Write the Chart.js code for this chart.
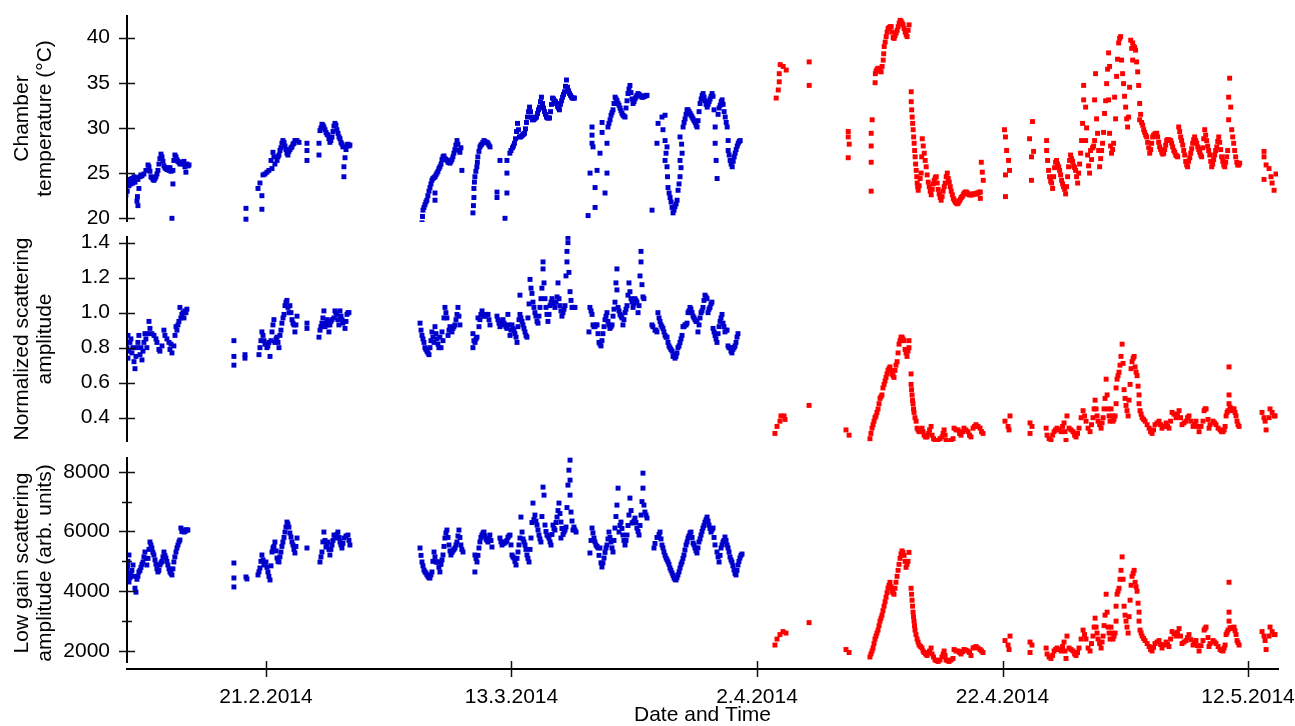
<!DOCTYPE html>
<html>
<head>
<meta charset="utf-8">
<script src="https://cdn.jsdelivr.net/npm/chart.js@4.4.1/dist/chart.umd.min.js"></script>
<style>
  html, body { margin: 0; padding: 0; background: #fff; }
  #wrap { position: relative; width: 1295px; height: 726px; }
  #wrap canvas { position: absolute; left: 0; top: 0; }
</style>
</head>
<body>
<div id="wrap">
  <canvas id="tempChart" width="1295" height="726"></canvas>
  <canvas id="normChart" width="1295" height="726"></canvas>
  <canvas id="lowChart" width="1295" height="726"></canvas>
</div>
<script>
// x values are days counted from 1.2.2014 (day 0)
var dateTicks = [20, 40, 60, 80, 100];
var dayMin = 8.68;
var dayMax = 102.44;

var tempTicks = [20, 25, 30, 35, 40];
var normTicks = [0.4, 0.6, 0.8, 1.0, 1.2, 1.4];
var lowTicks = [2000, 3000, 4000, 5000, 6000, 7000, 8000];

// chamber temperature, [day, degC]
var tempBlue = [
  [8.59,22.6],[8.59,23.3],[8.65,24.0],[8.70,23.0],[8.76,24.2],[8.84,23.6],[8.92,24.3],[9.00,23.8],[9.08,24.4],[9.16,23.9],
  [9.25,24.6],[9.33,24.0],[9.41,24.5],[9.49,21.9],[9.53,22.4],[9.57,21.4],[9.57,24.3],[9.65,23.3],[9.74,24.6],[9.82,24.8],
  [9.90,24.7],[10.06,24.9],[10.22,25.3],[10.39,25.9],[10.47,25.7],[10.55,25.2],[10.63,24.6],[10.71,24.5],[10.80,24.3],[10.88,24.2],
  [10.96,24.4],[11.04,24.6],[11.12,24.9],[11.20,25.3],[11.28,26.0],[11.36,26.6],[11.45,27.1],[11.53,26.8],[11.61,26.3],[11.69,25.8],
  [11.77,25.6],[11.85,25.5],[11.93,25.4],[12.02,25.6],[12.10,25.3],[12.18,25.6],[12.26,25.2],[12.34,20.0],[12.42,23.8],[12.42,25.3],
  [12.50,26.4],[12.58,27.0],[12.67,26.8],[12.75,26.5],[12.83,26.3],[12.91,26.2],[12.99,26.0],[13.07,26.1],[13.15,26.2],[13.24,26.0],
  [13.32,26.3],[13.40,25.7],[13.48,25.9],[13.48,25.1],[13.57,26.0],[13.65,25.8],[13.73,25.9],
  [18.37,21.1],[18.37,19.9],[19.35,23.3],[19.51,23.9],[19.67,22.5],[19.67,21.0],[19.76,24.8],[19.92,24.9],[20.08,25.1],[20.24,25.3],
  [20.49,25.5],[20.57,27.3],[20.73,26.0],[20.90,26.4],[21.06,27.0],[21.22,27.8],[21.38,28.6],[21.55,28.0],[21.71,27.2],[21.87,27.4],
  [21.95,27.6],[22.12,27.9],[22.28,28.3],[22.36,28.6],[22.53,28.6],[22.69,28.4],
  [20.41,26.4],[20.65,26.8],[20.98,26.8],[21.14,27.5],[21.30,28.3],[21.47,28.4],[21.63,27.6],[21.79,27.0],[22.04,27.8],[22.20,28.2],
  [23.34,28.3],[23.34,27.5],[23.34,26.4],[24.32,28.3],[24.32,27.0],[24.40,29.7],[24.64,30.3],[24.81,29.8],[25.05,29.2],[25.21,28.4],
  [25.38,29.0],[25.62,30.5],[25.87,29.4],[26.03,28.8],[26.27,27.9],[26.35,25.7],[26.35,24.6],[26.44,26.7],[26.60,28.1],[26.84,28.1],
  [24.48,30.0],[24.56,30.4],[24.72,30.1],[24.89,29.5],[24.97,29.3],[25.13,28.8],[25.29,28.6],[25.46,29.6],[25.54,30.2],[25.70,30.3],
  [25.78,29.8],[25.95,29.0],[26.11,28.4],[26.19,28.2],[26.52,27.6],[26.68,28.2],[26.76,28.0],
  [32.71,19.5],[32.79,20.9],[32.95,21.5],[33.11,22.0],[33.36,23.4],[33.52,24.2],[33.77,24.6],[33.77,22.8],[33.77,22.0],[33.93,25.0],
  [34.17,25.7],[34.42,26.8],[34.58,26.6],[34.74,26.4],[34.99,26.1],[35.23,26.8],[35.39,27.6],[35.56,28.6],[35.72,27.5],[35.88,27.8],
  [35.96,25.3],
  [32.75,20.2],[32.87,21.2],[33.03,21.8],[33.19,22.5],[33.28,23.0],[33.44,23.8],[33.60,24.4],[33.69,24.5],[33.85,24.8],[34.01,25.2],
  [34.09,25.5],[34.26,26.0],[34.34,26.5],[34.50,26.9],[34.66,26.5],[34.83,26.2],[34.91,26.2],[35.07,26.3],[35.15,26.5],[35.31,27.2],
  [35.47,28.1],[35.64,28.2],[35.80,27.3],
  [36.86,20.6],[36.94,22.3],[36.94,23.3],[37.02,24.6],[37.18,25.7],[37.26,26.8],[37.43,27.9],[37.67,28.4],[37.84,28.5],[38.08,28.3],
  [38.25,27.9],
  [36.90,21.4],[36.98,24.0],[37.10,25.2],[37.22,26.2],[37.35,27.4],[37.51,28.1],[37.59,28.2],[37.76,28.6],[37.92,28.4],[38.00,28.4],
  [38.16,28.1],
  [38.82,22.9],[38.82,22.3],[39.06,26.4],[39.47,20.0],[39.63,22.8],[39.63,25.0],[39.63,26.4],[39.87,27.2],[40.08,27.8],[40.24,28.3],
  [40.49,30.5],[40.65,29.0],[40.90,29.2],[41.06,29.4],[41.30,31.2],[41.47,32.3],[41.71,30.9],[41.87,31.0],[42.04,31.2],[42.28,32.3],
  [42.44,33.4],[42.53,32.7],[42.69,31.8],[42.85,31.2],[43.10,31.1],[43.34,33.3],[43.50,33.0],[43.67,32.7],[43.91,32.0],[44.16,33.4],
  [44.32,34.0],[44.48,35.3],[44.56,34.5],[44.73,33.8],[44.89,33.4],[45.13,33.3],
  [39.96,27.5],[40.16,28.0],[40.33,28.8],[40.41,29.6],[40.57,29.8],[40.73,29.0],[40.82,29.1],[40.98,29.3],[41.14,29.9],[41.22,30.6],
  [41.39,31.8],[41.55,31.8],[41.63,31.2],[41.79,30.9],[41.95,31.1],[42.12,31.6],[42.20,32.0],[42.36,32.9],[42.61,32.2],[42.77,31.5],
  [42.93,31.1],[43.02,31.1],[43.18,31.8],[43.26,32.6],[43.42,33.2],[43.59,32.9],[43.75,32.4],[43.83,32.2],[43.99,32.6],[44.08,33.0],
  [44.24,33.7],[44.40,34.6],[44.65,34.1],[44.81,33.6],[44.97,33.3],[45.05,33.3],
  [46.24,20.3],[46.40,25.0],[46.56,30.1],[46.56,29.2],[46.56,28.3],[46.64,27.9],[46.81,21.2],[46.81,23.4],[46.97,25.3],[47.21,27.2],
  [47.38,30.6],[47.38,29.5],[47.62,22.8],[47.78,25.0],[47.78,28.3],[47.86,30.1],[48.03,30.9],[48.27,32.0],[48.44,33.4],[48.68,32.7],
  [48.84,32.2],[49.00,31.6],[49.25,31.2],[49.49,33.8],[49.65,34.7],[49.90,32.7],[50.06,33.2],[50.31,33.8],[50.47,33.6],[50.71,33.4],
  [51.04,33.6],
  [47.94,30.5],[48.11,31.4],[48.19,31.7],[48.35,32.7],[48.52,33.2],[48.60,33.0],[48.76,32.5],[48.92,31.9],[49.08,31.4],[49.17,31.3],
  [49.33,32.2],[49.41,33.0],[49.57,34.3],[49.74,33.9],[49.82,33.2],[49.98,32.9],[50.14,33.4],[50.22,33.6],[50.39,33.7],[50.55,33.5],
  [50.63,33.4],[50.79,33.5],[50.87,33.5],[50.96,33.6],
  [51.45,20.9],[51.85,28.3],[51.94,30.5],[52.26,31.2],[52.34,29.8],[52.51,31.4],[52.51,28.6],[52.51,26.4],[52.67,27.9],[52.67,25.7],
  [52.75,23.4],[52.92,22.3],[53.08,21.2],[53.16,20.6],[53.32,21.3],[53.49,22.0],[53.57,23.1],[53.73,24.6],[53.73,26.4],[53.73,29.0],
  [53.90,27.2],[53.98,30.1],[54.14,31.0],[54.30,32.0],[54.55,31.6],[54.71,31.2],[54.96,30.6],[55.12,30.1],[55.36,32.7],[55.61,33.8],
  [55.77,33.0],[55.94,32.3],[56.18,33.2],[56.34,33.8],[56.59,30.1],[56.59,28.3],[56.67,26.4],[56.75,24.4],[57.00,32.5],[57.16,33.1],
  [57.41,31.2],[57.57,30.1],[57.65,28.6],[57.65,27.5],[57.81,26.4],[57.98,25.7],[58.22,27.2],[58.47,28.3],[58.63,28.6],
  [52.59,27.2],[52.71,24.6],[52.84,22.8],[53.00,21.8],[53.24,20.9],[53.41,21.6],[53.65,23.8],[53.81,25.6],[53.86,28.2],
  [54.06,30.6],[54.22,31.5],[54.38,32.0],[54.47,31.8],[54.63,31.4],[54.79,31.0],[54.87,30.8],[55.04,30.3],[55.20,30.8],[55.28,31.8],
  [55.45,33.2],[55.53,33.6],[55.69,33.4],[55.85,32.6],[56.02,32.6],[56.10,32.9],[56.26,33.5],[56.42,33.5],[56.50,32.0],[56.83,31.5],
  [56.91,32.2],[57.08,32.9],[57.24,32.6],[57.32,31.8],[57.49,30.6],[57.73,27.0],[57.89,26.0],[58.06,26.3],[58.14,26.8],[58.30,27.6],
  [58.39,28.0],[58.55,28.5]
];

var tempRed = [
  [61.56,33.3],[61.73,34.2],[61.81,35.1],[61.81,36.0],[61.89,37.0],[62.13,36.8],[62.38,36.4],
  [64.25,37.3],[64.25,34.7],
  [67.43,29.6],[67.43,29.0],[67.43,26.7],[67.51,28.2],
  [69.30,23.0],[69.30,26.2],[69.30,28.0],[69.30,29.4],[69.38,30.9],
  [69.62,35.0],[69.64,36.0],[69.87,36.6],[70.11,36.2],[70.28,37.5],[70.36,39.0],[70.52,40.1],[70.68,41.0],[70.93,41.2],[71.17,39.9],
  [71.42,40.8],[71.66,41.9],[71.90,41.4],[72.23,40.1],[72.39,41.4],
  [69.70,36.3],[69.79,36.5],[69.95,36.4],[70.03,36.3],[70.19,36.8],[70.32,38.2],[70.44,39.5],[70.60,40.6],[70.77,41.1],[70.85,41.2],
  [71.01,40.6],[71.09,40.0],[71.25,40.2],[71.34,40.5],[71.50,41.2],[71.58,41.6],[71.74,41.8],[71.82,41.6],[71.98,41.0],[72.07,40.6],
  [72.15,40.3],[72.31,40.8],
  [72.56,34.0],[72.56,32.9],[72.64,31.2],[72.72,29.8],[72.80,28.3],[72.88,26.8],[72.97,25.3],[73.05,23.9],[73.13,23.1],[73.37,25.0],
  [73.46,28.8],[73.62,27.2],[73.78,25.7],[74.03,23.5],[74.19,22.6],[74.43,24.2],[74.60,24.6],[74.84,22.7],[75.00,22.0],[75.33,23.9],
  [75.50,25.0],[75.74,23.5],[75.99,22.2],[76.31,21.6],[76.72,22.4],[77.05,22.9],[77.45,22.6],[77.86,22.7],[78.19,22.9],[78.19,22.2],
  [78.27,26.2],[78.35,25.1],[78.43,24.2],
  [72.60,32.0],[72.68,30.5],[72.76,29.0],[72.84,27.5],[72.92,26.0],[73.01,24.6],[73.09,23.5],
  [73.21,23.6],[73.29,24.4],[73.42,26.8],[73.54,28.0],[73.70,26.4],[73.86,24.8],[73.95,24.0],[74.11,23.0],[74.27,23.2],[74.35,23.8],
  [74.52,24.5],[74.68,23.9],[74.76,23.2],[74.92,22.3],[75.08,22.4],[75.16,23.0],[75.25,23.5],[75.41,24.6],[75.58,24.4],[75.66,24.0],
  [75.82,23.0],[75.91,22.6],[76.07,22.0],[76.15,21.8],[76.23,21.7],[76.39,21.7],[76.48,21.9],[76.56,22.1],[76.64,22.3],[76.80,22.6],
  [76.88,22.8],[76.97,22.9],[77.13,22.8],[77.21,22.7],[77.29,22.6],[77.37,22.6],[77.54,22.6],[77.62,22.7],[77.70,22.7],[77.78,22.7],
  [77.94,22.8],[78.03,22.8],[78.11,22.9],
  [80.16,29.8],[80.24,29.0],[80.24,22.4],[80.24,24.8],[80.33,27.5],[80.49,26.4],[80.57,25.3],
  [82.20,28.8],[82.36,26.8],[82.36,24.2],[82.44,30.7],[82.53,27.4],
  [83.59,28.6],[83.59,27.5],[83.75,25.3],[84.00,23.9],[84.08,23.3],[84.40,26.4],[84.65,25.3],[84.97,23.5],[85.14,22.7],[85.38,25.7],
  [85.54,27.0],[85.95,25.3],[86.12,23.9],[86.20,25.0],[86.36,27.2],[86.44,28.6],[86.52,30.5],[86.61,33.1],[86.61,34.7],[86.77,32.3],
  [86.77,28.6],[87.09,25.0],[87.17,27.5],[87.50,28.6],[87.50,33.1],[87.58,36.0],[87.74,29.4],[87.91,25.7],[88.07,27.5],[88.15,28.3],
  [88.31,31.6],[88.48,34.9],[88.64,38.3],[88.64,33.1],[88.72,36.8],[88.72,29.4],[88.88,27.2],[89.05,28.3],[89.13,33.4],[89.29,35.7],
  [89.46,39.4],[89.62,40.1],[89.70,37.5],[89.86,34.9],[90.03,32.3],[90.19,30.1],[90.27,31.2],[90.44,39.7],[90.60,37.5],[90.60,39.4],
  [90.84,38.6],[91.01,36.2],[91.09,34.7],[91.17,32.7],[91.17,30.9],[91.42,30.3],[91.74,29.0],[91.99,27.2],[92.23,29.0],[92.56,29.4],
  [92.80,27.9],[93.13,27.2],[93.37,28.6],[93.70,28.6],[93.95,27.5],[94.27,26.8],[94.35,30.1],[94.51,29.0],[94.76,27.5],[95.08,25.7],
  [95.33,27.2],[95.65,29.0],[95.90,27.9],[96.22,26.8],[96.47,29.8],[96.79,27.5],[97.04,25.7],[97.36,27.5],[97.61,29.0],[97.85,26.8],
  [98.10,25.7],[98.34,27.5],[98.42,30.9],[98.42,33.4],[98.50,35.5],[98.59,32.3],[98.67,29.8],[98.83,28.3],[98.99,26.8],[99.16,25.9],
  [99.32,26.1],
  [83.67,26.4],[83.83,24.6],[83.92,24.1],[84.16,24.6],[84.24,25.6],[84.32,26.2],[84.48,26.0],[84.57,25.7],[84.73,24.8],[84.81,24.2],
  [84.89,23.8],[85.06,23.2],[85.22,23.5],[85.30,24.6],[85.46,26.4],[85.62,26.6],[85.71,26.3],[85.79,25.8],[85.87,25.6],[86.03,24.6],
  [86.28,26.0],[86.85,30.0],[86.93,27.0],[87.01,25.8],[87.25,26.5],[87.33,27.8],[87.42,28.0],[87.66,31.0],[87.83,27.5],[87.99,26.6],
  [88.23,29.5],[88.40,33.0],[88.56,36.5],[88.80,28.0],[88.97,27.6],[89.21,31.0],[89.37,37.6],[89.54,39.9],[89.78,36.0],[89.94,33.5],
  [90.11,31.0],[90.35,34.5],[90.52,38.8],[90.68,39.0],[90.76,38.9],[90.92,37.3],[91.25,31.5],[91.33,30.6],
  [91.50,29.8],[91.58,29.5],[91.66,29.2],[91.82,28.4],[91.91,27.8],[92.07,27.6],[92.15,28.3],[92.31,29.2],[92.40,29.3],[92.48,29.4],
  [92.64,29.0],[92.72,28.4],[92.88,27.6],[92.97,27.3],[93.05,27.1],[93.21,27.6],[93.29,28.1],[93.45,28.7],[93.54,28.7],[93.62,28.6],
  [93.78,28.3],[93.86,27.9],[94.03,27.3],[94.11,27.0],[94.19,26.9],[94.43,29.6],[94.59,28.6],[94.68,28.1],[94.84,27.0],[94.92,26.3],
  [95.00,25.9],[95.16,26.3],[95.25,26.7],[95.41,27.7],[95.49,28.3],[95.57,28.7],[95.74,28.6],[95.82,28.3],[95.98,27.6],[96.06,27.3],
  [96.14,27.0],[96.31,27.8],[96.39,28.8],[96.55,29.2],[96.63,28.6],[96.71,28.0],[96.88,27.0],[96.96,26.3],[97.12,26.0],[97.20,26.5],
  [97.28,27.0],[97.45,27.9],[97.53,28.5],[97.69,28.4],[97.77,27.6],[97.94,26.3],[98.02,25.9],[98.18,26.2],[98.26,26.8],[98.75,29.0],
  [98.91,27.5],[99.08,26.2],[99.24,25.9],
  [101.30,26.8],[101.30,27.4],[101.30,24.3],[101.47,25.9],[101.71,25.5],[101.87,24.6],[101.96,23.9],[102.12,23.1],[102.28,24.9]
];

// normalized scattering amplitude, [day, value]
var normBlue = [
  [8.68,0.80],[8.76,0.87],[8.76,0.74],[8.84,0.78],[8.92,0.83],[9.00,0.85],[9.08,0.77],[9.16,0.80],[9.25,0.72],[9.33,0.68],
  [9.41,0.75],[9.49,0.80],[9.57,0.83],[9.65,0.87],[9.74,0.76],[9.82,0.80],[9.90,0.73],[9.98,0.78],[10.06,0.83],[10.14,0.88],
  [10.22,0.85],[10.30,0.80],[10.39,0.88],[10.47,0.95],[10.55,0.91],[10.71,0.88],[10.88,0.87],[11.04,0.85],[11.12,0.83],[11.28,0.79],
  [11.36,0.78],[11.53,0.81],[11.69,0.90],[11.77,0.87],[11.93,0.85],[12.10,0.83],[12.18,0.79],[12.26,0.82],[12.34,0.77],[12.50,0.81],
  [12.59,0.87],[12.67,0.92],[12.75,0.90],[12.83,0.93],[12.91,0.95],[12.99,1.03],[13.07,0.97],[13.15,0.99],[13.24,1.00],[13.32,0.97],
  [13.40,1.01],[13.48,1.00],[13.56,1.02],
  [17.39,0.84],[17.39,0.75],[17.39,0.70],[18.29,0.76],[18.29,0.74],
  [19.43,0.76],[19.51,0.80],[19.67,0.89],[19.84,0.84],[20.08,0.80],[20.24,0.83],[20.33,0.75],[20.49,0.89],[20.65,0.96],[20.73,0.83],
  [20.90,0.86],[21.06,0.80],[21.14,0.87],[21.30,0.94],[21.47,0.99],[21.55,1.04],[21.71,1.07],[21.87,1.00],[21.95,1.04],[22.12,0.96],
  [22.28,0.93],[22.36,0.89],[22.53,0.98],
  [19.59,0.84],[19.76,0.87],[19.92,0.82],[20.16,0.81],[20.41,0.84],[20.57,0.93],[20.82,0.85],[20.98,0.83],[21.22,0.90],[21.39,0.97],
  [21.63,1.06],[21.79,1.03],[22.04,1.00],[22.20,0.94],[22.44,0.93],
  [23.34,0.94],[23.34,0.91],
  [24.32,0.86],[24.40,0.90],[24.56,0.94],[24.72,1.01],[24.81,0.92],[24.97,0.96],[25.13,0.89],[25.21,0.93],[25.54,0.97],[25.62,1.01],
  [25.78,0.99],[25.94,0.93],[26.03,1.01],[26.35,0.95],[26.44,0.91],[26.60,0.99],[26.76,1.00],
  [24.48,0.92],[24.64,0.97],[24.89,0.94],[25.05,0.93],[25.29,0.95],[25.38,0.96],[25.70,1.00],[25.86,0.96],[26.11,0.98],[26.19,0.96],
  [26.27,0.94],[26.52,0.95],[26.68,1.00],
  [32.55,0.94],[32.71,0.87],[32.87,0.83],[32.95,0.80],[33.11,0.78],[33.28,0.76],[33.36,0.80],[33.52,0.89],[33.69,0.83],[33.77,0.92],
  [33.93,0.85],[34.09,0.80],[34.17,0.86],[34.26,0.80],[34.34,0.89],[34.42,0.84],[34.50,0.97],[34.58,1.03],[34.74,0.97],[34.83,0.87],
  [34.99,0.92],[35.15,0.89],[35.39,0.93],[35.56,0.99],[35.64,1.03],[35.80,0.93],
  [32.63,0.90],[32.79,0.85],[33.03,0.79],[33.20,0.77],[33.44,0.84],[33.60,0.86],[33.85,0.88],[34.01,0.82],[34.66,1.00],[34.91,0.90],
  [35.07,0.90],[35.23,0.91],[35.31,0.92],[35.48,0.96],[35.72,0.98],
  [36.86,0.88],[36.86,0.80],[37.03,0.83],[37.19,0.86],[37.27,0.97],[37.43,0.96],[37.60,1.01],[37.84,0.98],[38.09,0.99],[38.25,0.93],
  [36.94,0.84],[37.11,0.85],[37.35,0.92],[37.51,0.99],[37.68,0.99],[37.76,0.98],[37.92,0.99],[38.00,0.99],[38.17,0.96],
  [38.82,0.98],[39.06,0.92],[39.31,0.96],[39.63,0.91],[39.71,0.99],[39.88,0.87],[40.04,0.93],[40.28,0.88],[40.45,0.83],[40.53,0.92],
  [40.69,0.99],[40.69,1.10],[40.86,0.95],[40.94,0.93],[41.10,0.89],[41.26,0.86],[41.34,0.97],[41.51,1.19],[41.67,1.11],[41.75,1.06],
  [41.91,1.00],[42.08,0.95],[42.16,0.94],[42.32,1.03],[42.48,1.14],[42.57,1.25],[42.57,1.29],[42.73,1.08],[42.89,0.99],[42.97,0.95],
  [43.14,1.04],[43.30,1.08],[43.54,1.03],[43.71,1.09],[43.79,1.17],[43.95,1.04],[44.11,0.98],[44.20,1.00],[44.36,1.04],[44.44,1.21],
  [44.52,1.29],[44.52,1.35],[44.60,1.40],[44.60,1.43],[44.68,1.23],[44.77,1.12],[44.93,1.03],[45.01,1.03],[45.17,1.03],
  [38.90,0.96],[38.98,0.94],[39.14,0.93],[39.23,0.95],[39.39,0.94],[39.47,0.93],[39.55,0.92],[39.79,0.93],[39.96,0.90],[40.12,0.91],
  [40.20,0.90],[40.37,0.86],[40.61,0.96],[40.77,0.97],[41.02,0.91],[41.18,0.87],[41.43,1.05],[41.59,1.14],[41.83,1.03],[41.99,0.98],
  [42.24,0.98],[42.40,1.08],[42.65,1.17],[42.81,1.03],[43.06,0.99],[43.22,1.06],[43.38,1.06],[43.46,1.05],[43.63,1.06],[43.87,1.08],
  [44.03,1.01],[44.28,1.02],[44.85,1.07],[45.09,1.03],
  [46.31,0.89],[46.39,1.03],[46.56,0.99],[46.64,0.93],[46.97,0.93],[47.13,0.83],[47.29,0.81],[47.45,0.88],[47.62,0.96],[47.78,1.00],
  [47.86,0.95],[48.02,0.91],[48.19,0.93],[48.43,1.06],[48.51,1.17],[48.59,1.25],[48.59,1.13],[48.68,1.03],[48.84,0.99],[49.00,0.97],
  [49.08,0.93],[49.25,1.00],[49.41,1.04],[49.49,1.10],[49.57,1.17],[49.82,1.06],[49.90,1.03],[50.06,1.08],[50.22,1.06],[50.31,1.00],
  [50.47,1.21],[50.55,1.29],[50.55,1.35],[50.63,1.16],[50.71,1.09],[50.79,1.08],
  [46.48,1.01],[46.72,0.92],[46.80,0.92],[46.89,0.93],[47.05,0.88],[47.21,0.82],[47.37,0.84],[47.54,0.92],[47.70,0.98],[47.94,0.93],
  [48.11,0.92],[48.27,0.98],[48.35,1.02],[48.76,1.01],[48.92,0.98],[49.16,0.96],[49.33,1.02],[49.65,1.12],[49.74,1.08],[49.98,1.05],
  [50.14,1.07],[50.39,1.04],
  [51.44,0.93],[51.85,0.89],[51.93,1.00],[52.10,0.95],[52.34,0.91],[52.51,0.87],[52.67,0.86],[52.75,0.83],[52.91,0.80],[53.08,0.78],
  [53.16,0.75],[53.24,0.76],[53.32,0.74],[53.40,0.75],[53.48,0.77],[53.56,0.80],[53.73,0.83],[53.89,0.87],[53.97,0.92],[54.13,0.93],
  [54.30,0.94],[54.38,1.00],[54.54,1.03],[54.79,0.98],[54.95,0.96],[55.11,0.95],[55.19,0.89],[55.36,0.97],[55.60,1.03],[55.76,1.10],
  [55.93,1.08],[56.01,1.00],[56.17,1.03],[56.33,1.06],[56.42,0.91],[56.58,0.87],[56.74,0.83],[56.99,0.95],[57.15,0.99],[57.23,0.94],
  [57.39,0.89],[57.56,0.90],[57.64,0.81],[57.80,0.80],[57.96,0.77],[58.04,0.79],[58.21,0.81],[58.37,0.86],[58.45,0.88],
  [51.52,0.92],[51.69,0.90],[51.77,0.90],[52.02,0.97],[52.18,0.93],[52.26,0.92],[52.42,0.89],[52.59,0.86],[52.83,0.81],[52.99,0.79],
  [53.65,0.81],[53.81,0.85],[54.05,0.92],[54.22,0.93],[54.46,1.01],[54.62,1.02],[54.71,1.00],[54.87,0.97],[55.03,0.95],[55.28,0.93],
  [55.44,1.00],[55.52,1.01],[55.68,1.07],[55.85,1.09],[56.09,1.02],[56.25,1.05],[56.50,0.89],[56.66,0.85],[56.83,0.88],[56.91,0.92],
  [57.07,0.97],[57.31,0.92],[57.48,0.90],[57.72,0.80],[57.88,0.78],[58.13,0.80],[58.29,0.83]
];

var normRed = [
  [61.46,0.31],[61.63,0.35],[61.87,0.38],[61.95,0.41],[62.20,0.41],[62.28,0.39],
  [64.24,0.47],
  [67.25,0.33],[67.50,0.30],
  [69.20,0.28],[69.37,0.34],[69.53,0.38],[69.69,0.41],[69.86,0.45],[70.02,0.51],[70.18,0.53],[70.26,0.57],[70.43,0.61],[70.59,0.65],
  [70.75,0.68],[70.83,0.69],[71.00,0.65],[71.16,0.63],[71.24,0.67],[71.41,0.72],[71.49,0.77],[71.57,0.82],[71.73,0.86],[71.98,0.84],
  [72.06,0.79],[72.22,0.75],[72.38,0.80],[72.38,0.84],
  [69.28,0.31],[69.45,0.36],[69.61,0.40],[69.77,0.43],[69.94,0.48],[70.10,0.52],[70.35,0.59],[70.51,0.63],[70.67,0.67],[70.91,0.67],
  [71.08,0.64],[71.32,0.70],[71.65,0.84],[71.81,0.86],[71.89,0.85],[72.14,0.77],[72.30,0.78],
  [72.55,0.65],[72.55,0.59],[72.63,0.53],[72.71,0.48],[72.79,0.43],[72.96,0.38],[73.04,0.34],[73.20,0.32],[73.44,0.34],[73.61,0.30],
  [73.85,0.29],[74.18,0.35],[74.26,0.30],[74.50,0.26],[74.75,0.27],[75.07,0.29],[75.24,0.33],[75.40,0.27],[75.64,0.26],[75.97,0.28],
  [76.05,0.34],[76.38,0.33],[76.62,0.30],[76.86,0.34],[77.19,0.32],[77.43,0.29],[77.60,0.34],[77.84,0.36],[78.17,0.34],[78.41,0.31],
  [72.59,0.56],[72.67,0.50],[72.75,0.45],[72.87,0.40],[73.12,0.33],[73.32,0.33],[73.53,0.32],[73.73,0.29],[73.98,0.31],[74.06,0.33],
  [74.38,0.28],[74.63,0.27],[74.91,0.28],[75.16,0.31],[75.32,0.30],[75.52,0.26],[75.81,0.27],[76.21,0.33],[76.50,0.31],[76.74,0.32],
  [77.02,0.33],[77.31,0.30],[77.72,0.35],[78.00,0.35],[78.29,0.32],
  [80.20,0.38],[80.45,0.35],[80.53,0.33],[80.61,0.41],
  [82.24,0.37],[82.24,0.31],[82.40,0.35],
  [83.55,0.34],[83.63,0.30],[83.95,0.27],[84.20,0.32],[84.44,0.34],[84.77,0.32],[85.01,0.37],[85.17,0.27],[85.25,0.41],[85.42,0.34],
  [85.74,0.32],[85.99,0.29],[86.23,0.34],[86.56,0.44],[86.80,0.38],[86.97,0.34],[87.13,0.32],[87.37,0.40],[87.54,0.50],[87.62,0.45],
  [87.78,0.38],[88.03,0.34],[88.19,0.40],[88.35,0.51],[88.44,0.62],[88.60,0.45],[88.76,0.38],[88.84,0.45],[89.00,0.38],[89.17,0.41],
  [89.25,0.48],[89.25,0.57],[89.33,0.62],[89.49,0.66],[89.65,0.75],[89.74,0.82],[89.82,0.71],[89.90,0.56],[89.98,0.51],[90.14,0.44],
  [90.23,0.41],[90.39,0.59],[90.47,0.68],[90.55,0.72],[90.72,0.75],[90.80,0.69],[90.96,0.64],[91.04,0.58],[91.12,0.53],[91.12,0.48],
  [91.20,0.44],[91.37,0.40],[91.61,0.38],[91.94,0.34],[92.18,0.31],[92.42,0.36],[92.75,0.38],[92.99,0.34],[93.32,0.37],[93.56,0.34],
  [93.81,0.43],[94.13,0.40],[94.38,0.44],[94.62,0.36],[94.95,0.38],[95.19,0.41],[95.52,0.35],[95.76,0.38],[96.01,0.32],[96.33,0.38],
  [96.42,0.44],[96.58,0.45],[96.74,0.39],[96.82,0.34],[97.15,0.38],[97.39,0.36],[97.72,0.33],[97.96,0.32],[98.13,0.35],[98.21,0.41],
  [98.37,0.44],[98.45,0.48],[98.45,0.53],[98.45,0.69],[98.62,0.44],[98.86,0.45],[99.02,0.41],[99.10,0.38],[99.27,0.35],
  [83.79,0.28],[84.08,0.30],[84.32,0.33],[84.61,0.33],[84.89,0.35],[85.09,0.32],[85.58,0.33],[85.87,0.30],[86.11,0.31],[86.40,0.40],
  [86.68,0.41],[87.25,0.36],[87.46,0.45],[87.70,0.41],[87.91,0.36],[88.11,0.37],[88.27,0.45],[88.52,0.53],[88.68,0.41],[88.92,0.41],
  [89.08,0.39],[89.41,0.64],[89.57,0.70],[90.06,0.47],[90.31,0.50],[90.64,0.74],[90.88,0.66],[91.29,0.42],[91.49,0.39],[91.78,0.36],
  [92.06,0.32],[92.30,0.33],[92.59,0.37],[92.87,0.36],[93.16,0.35],[93.44,0.35],[93.69,0.38],[93.97,0.42],[94.25,0.42],[94.50,0.40],
  [94.78,0.37],[95.07,0.40],[95.35,0.38],[95.64,0.36],[95.88,0.35],[96.17,0.35],[96.50,0.45],[96.90,0.36],[97.27,0.37],[97.56,0.34],
  [97.84,0.32],[98.05,0.33],[98.29,0.43],[98.53,0.46],[98.74,0.45],[98.94,0.43],[99.18,0.36],
  [101.14,0.43],[101.30,0.40],[101.39,0.38],[101.47,0.33],[101.71,0.40],[101.79,0.45],[101.96,0.43],[102.12,0.41],[102.20,0.41]
];

// low gain scattering amplitude, [day, arb. units]
var lowBlue = [
  [8.68,4700],[8.76,5000],[8.84,5213],[8.84,4310],[9.00,4600],[9.17,4878],[9.33,4102],[9.41,3969],[9.49,4400],[9.65,4645],
  [9.82,4800],[9.98,4979],[10.14,5313],[10.30,4878],[10.39,5100],[10.55,5647],[10.71,5447],[10.87,5213],[11.04,4900],[11.20,4645],
  [11.36,4878],[11.53,5000],[11.69,5313],[11.85,5112],[12.01,4878],[12.18,4645],[12.34,4545],[12.50,4979],[12.67,5313],[12.83,5547],
  [12.99,5714],[13.07,6115],[13.32,5981],[13.48,6048],[13.64,6050],
  [8.72,4850],[8.80,4600],[8.92,4450],[9.08,4700],[9.25,4500],[9.57,4500],[9.74,4700],[9.90,4900],[10.06,5150],[10.22,5100],
  [10.47,5400],[10.63,5550],[10.79,5300],[10.96,5050],[11.12,4750],[11.28,4700],[11.45,4950],[11.61,5150],[11.77,5200],[11.93,5000],
  [12.10,4750],[12.26,4600],[12.42,4750],[12.58,5150],[12.75,5450],[12.91,5650],[13.15,6000],[13.24,6050],[13.40,6000],[13.56,6050],
  [17.39,4945],[17.39,4444],[17.39,4143],[18.37,4478],[18.45,4411],
  [19.35,4545],[19.51,4778],[19.67,5213],[19.84,4878],[20.00,4979],[20.16,4645],[20.33,4377],[20.49,5313],[20.73,5647],[20.90,5112],
  [21.06,4979],[21.22,5313],[21.38,5647],[21.55,5981],[21.71,6315],[21.87,6148],[22.04,5814],[22.20,5547],[22.36,5280],[22.53,5781],
  [19.43,4650],[19.59,5000],[19.76,5050],[19.92,4900],[20.08,4800],[20.24,4500],[20.41,4850],[20.57,5450],[20.65,5500],[20.82,5350],
  [20.98,5000],[21.14,5150],[21.30,5500],[21.47,5800],[21.63,6150],[21.79,6250],[21.95,5950],[22.12,5650],[22.28,5400],[22.44,5500],
  [23.34,5447],
  [24.40,4979],[24.56,5313],[24.72,5981],[24.89,5480],[25.05,5647],[25.21,5213],[25.38,5547],[25.54,5881],[25.70,5781],[25.86,5981],
  [26.03,5647],[26.19,5447],[26.35,5781],[26.68,5881],[26.84,5547],
  [24.48,5150],[24.64,5650],[24.81,5700],[24.97,5550],[25.13,5400],[25.29,5400],[25.46,5700],[25.62,5850],[25.78,5900],[25.95,5800],
  [26.11,5550],[26.27,5600],[26.52,5850],[26.76,5700],
  [32.55,5447],[32.71,4979],[32.87,4711],[33.03,4611],[33.36,4444],[33.52,4645],[33.69,5313],[33.85,4979],[34.01,4979],[34.17,4645],
  [34.42,5213],[34.58,5781],[34.74,6048],[34.91,5547],[35.07,5213],[35.40,5447],[35.56,5647],[35.72,6048],[35.88,5547],[36.05,5313],
  [32.63,5200],[32.79,4850],[32.95,4650],[33.11,4550],[33.20,4500],[33.28,4450],[33.44,4550],[33.60,5000],[33.77,5150],[33.93,4979],
  [34.09,4800],[34.26,4900],[34.34,5050],[34.50,5500],[34.66,5950],[34.83,5800],[34.99,5350],[35.15,5300],[35.23,5350],[35.31,5400],
  [35.48,5550],[35.64,5850],[35.80,5800],[35.96,5400],
  [37.02,4645],[37.02,5213],[37.19,4979],[37.35,5447],[37.59,5881],[37.76,5981],[38.08,5647],[38.24,5881],[38.41,5480],
  [37.11,5100],[37.27,5200],[37.43,5650],[37.51,5800],[37.68,5950],[37.84,5850],[37.92,5750],[38.00,5700],[38.16,5750],[38.33,5700],
  [39.06,5781],[39.23,5547],[39.55,5647],[39.88,5881],[40.04,5213],[40.20,5112],[40.37,4878],[40.53,5313],[40.69,5781],[40.77,6482],
  [40.86,5981],[41.10,5547],[41.26,5213],[41.43,4979],[41.59,5781],[41.75,6950],[41.91,6549],[42.08,6215],[42.24,5881],[42.40,5647],
  [42.57,7484],[42.65,7216],[42.73,6215],[42.89,5881],[43.05,5781],[43.22,5547],[43.38,6215],[43.54,6048],[43.71,6482],[43.87,6950],
  [44.03,6315],[44.03,5781],[44.28,5981],[44.44,6148],[44.60,7551],[44.68,8052],[44.77,8387],[44.77,7718],[44.77,7216],[44.85,6649],
  [45.09,6148],[45.26,5981],
  [39.14,5650],[39.31,5600],[39.39,5600],[39.47,5650],[39.63,5700],[39.71,5800],[39.79,5850],[39.96,5550],[40.12,5150],[40.28,5000],
  [40.45,5100],[40.61,5550],[40.94,5750],[41.02,5650],[41.18,5400],[41.34,5100],[41.51,5400],[41.67,6300],[41.83,6400],[41.99,6350],
  [42.16,6050],[42.32,5750],[42.48,6500],[42.81,6000],[42.97,5850],[43.14,5650],[43.30,5900],[43.46,6100],[43.63,6300],[43.79,6700],
  [43.95,6600],[44.11,6100],[44.20,5900],[44.36,6050],[44.52,6800],[44.93,6350],[45.01,6050],[45.17,6050],
  [46.39,5280],[46.56,6115],[46.72,5781],[46.88,5547],[47.21,5447],[47.37,4811],[47.54,5112],[47.78,5547],[47.94,5981],[48.11,5647],
  [48.27,5313],[48.43,6115],[48.59,6883],[48.68,7450],[48.76,5981],[48.92,6315],[49.08,5881],[49.25,5547],[49.41,5881],[49.57,6549],
  [49.65,7117],[49.82,6282],[50.06,6449],[50.22,6115],[50.39,5881],[50.55,6549],[50.71,7450],[50.71,7952],[50.79,6883],[51.04,6449],
  [46.48,5700],[46.64,5950],[46.80,5650],[46.97,5500],[47.05,5450],[47.13,5200],[47.29,4950],[47.45,4950],[47.62,5300],[47.70,5450],
  [47.86,5750],[48.02,5800],[48.19,5450],[48.35,5700],[48.51,6500],[48.84,6200],[49.00,6100],[49.16,5700],[49.33,5700],[49.49,6200],
  [49.74,6700],[49.90,6300],[49.98,6350],[50.14,6300],[50.31,6000],[50.47,6200],[50.63,7000],[50.87,6650],[50.96,6550],
  [51.61,5447],[52.10,5981],[52.26,5547],[52.42,5313],[52.59,5112],[52.75,4979],[52.91,4778],[53.08,4611],[53.24,4444],[53.40,4377],
  [53.56,4545],[53.73,4778],[53.89,4979],[54.05,5213],[54.22,5547],[54.38,5781],[54.62,5981],[54.79,5614],[54.95,5447],[55.11,5280],
  [55.27,5647],[55.44,5881],[55.60,6115],[55.76,6315],[55.93,6482],[56.09,6215],[56.25,5981],[56.42,6115],[56.74,5313],[56.91,4979],
  [57.07,5447],[57.23,5647],[57.39,5814],[57.56,5547],[57.72,5313],[57.96,4979],[58.13,4711],[58.29,4545],[58.45,4878],[58.61,5112],
  [58.78,5246],
  [51.69,5600],[51.85,5800],[52.02,5900],[52.18,5750],[52.34,5450],[52.51,5200],[52.67,5050],[52.83,4900],[52.99,4700],[53.16,4530],
  [53.32,4400],[53.48,4450],[53.65,4650],[53.81,4900],[53.97,5100],[54.13,5380],[54.30,5650],[54.46,5850],[54.54,5950],[54.71,5800],
  [54.87,5550],[55.03,5350],[55.19,5450],[55.36,5750],[55.52,6000],[55.68,6200],[55.85,6400],[56.01,6350],[56.17,6100],[56.33,6050],
  [56.50,5800],[56.58,5550],[56.83,5150],[56.99,5200],[57.15,5550],[57.31,5700],[57.48,5700],[57.64,5450],[57.80,5150],[57.88,5050],
  [58.04,4850],[58.21,4600],[58.37,4700],[58.53,5000],[58.69,5200]
];

var lowRed = [
  [61.46,2200],[61.63,2400],[61.87,2550],[62.12,2650],[62.36,2600],
  [64.24,2950],
  [67.25,2050],[67.50,1950],
  [69.20,1800],[69.37,2000],[69.53,2250],[69.69,2500],[69.86,2700],[70.02,3000],[70.18,3200],[70.35,3500],[70.51,3800],[70.67,4100],
  [70.83,4300],[71.00,4000],[71.16,3900],[71.32,4300],[71.49,4700],[71.65,5100],[71.81,5350],[71.98,5200],[72.14,4800],[72.30,5000],
  [72.38,5300],
  [69.28,1900],[69.45,2100],[69.61,2400],[69.77,2600],[69.94,2850],[70.10,3100],[70.26,3350],[70.43,3650],[70.59,3950],[70.75,4200],
  [70.91,4150],[71.08,3950],[71.24,4100],[71.41,4500],[71.57,4900],[71.73,5250],[71.89,5300],[72.06,5000],[72.22,4900],
  [72.55,4100],[72.63,3700],[72.71,3300],[72.79,3000],[72.87,2700],[73.04,2400],[73.20,2200],[73.44,2100],[73.61,1950],[73.85,1850],
  [74.18,2100],[74.26,1900],[74.50,1700],[74.75,1650],[75.07,1800],[75.24,2000],[75.40,1700],[75.64,1650],[75.97,1750],[76.05,2050],
  [76.38,2000],[76.62,1900],[76.86,2050],[77.19,2000],[77.43,1850],[77.60,2100],[77.84,2150],[78.17,2050],[78.41,1950],
  [72.59,3900],[72.67,3500],[72.75,3150],[72.83,2850],[72.95,2550],[73.12,2300],[73.32,2150],[73.53,2000],[73.73,1900],[73.98,1950],
  [74.06,2000],[74.38,1800],[74.63,1680],[74.91,1700],[75.16,1900],[75.32,1850],[75.52,1680],[75.81,1700],[76.21,2000],[76.50,1950],
  [76.74,1980],[77.02,2030],[77.31,1950],[77.72,2120],[78.00,2100],[78.29,2000],
  [80.20,2350],[80.45,2200],[80.53,2050],[80.61,2500],
  [82.24,2300],[82.24,1950],[82.40,2200],
  [83.55,2100],[83.63,1900],[83.95,1750],[84.20,2000],[84.44,2100],[84.77,2000],[85.01,2300],[85.17,1750],[85.25,2500],[85.42,2100],
  [85.74,2000],[85.99,1850],[86.23,2100],[86.56,2700],[86.80,2400],[86.97,2100],[87.13,2000],[87.37,2500],[87.54,3100],[87.62,2800],
  [87.78,2400],[88.03,2100],[88.19,2500],[88.35,3200],[88.44,3900],[88.60,2800],[88.76,2400],[88.84,2800],[89.00,2400],[89.17,2600],
  [89.25,3000],[89.25,3500],[89.33,3900],[89.49,4100],[89.65,4700],[89.74,5150],[89.82,4400],[89.90,3500],[89.98,3200],[90.14,2800],
  [90.23,2600],[90.39,3700],[90.47,4200],[90.55,4500],[90.72,4700],[90.80,4300],[90.96,4000],[91.04,3600],[91.12,3300],[91.12,3000],
  [91.20,2700],[91.37,2500],[91.61,2350],[91.94,2150],[92.18,2000],[92.42,2250],[92.75,2350],[92.99,2100],[93.32,2300],[93.56,2150],
  [93.81,2650],[94.13,2500],[94.38,2750],[94.62,2250],[94.95,2350],[95.19,2550],[95.52,2200],[95.76,2350],[96.01,2000],[96.33,2350],
  [96.42,2700],[96.58,2800],[96.74,2450],[96.82,2150],[97.15,2350],[97.39,2250],[97.72,2050],[97.96,2000],[98.13,2200],[98.21,2550],
  [98.37,2700],[98.45,3000],[98.45,3300],[98.45,4300],[98.62,2750],[98.86,2800],[99.02,2550],[99.10,2350],[99.27,2200],
  [83.79,1800],[84.08,1850],[84.32,2050],[84.61,2050],[84.89,2150],[85.09,2000],[85.58,2050],[85.87,1900],[86.11,1950],[86.40,2400],
  [86.68,2550],[87.25,2250],[87.46,2800],[87.70,2600],[87.91,2250],[88.11,2300],[88.27,2850],[88.52,3300],[88.68,2600],[88.92,2600],
  [89.08,2500],[89.41,4000],[89.57,4400],[90.06,3000],[90.31,3150],[90.64,4600],[90.88,4150],[91.29,2600],[91.49,2420],[91.78,2250],
  [92.06,2050],[92.30,2120],[92.59,2300],[92.87,2220],[93.16,2200],[93.44,2220],[93.69,2400],[93.97,2580],[94.25,2620],[94.50,2500],
  [94.78,2300],[95.07,2450],[95.35,2380],[95.64,2280],[95.88,2180],[96.17,2180],[96.50,2750],[96.90,2250],[97.27,2300],[97.56,2150],
  [97.84,2020],[98.05,2100],[98.29,2620],[98.53,2780],[98.74,2780],[98.94,2680],[99.18,2280],
  [101.14,2650],[101.30,2500],[101.39,2350],[101.47,2050],[101.71,2500],[101.79,2800],[101.96,2650],[102.12,2550],[102.20,2550]
];

var BLUE = '#0000cc';
var RED = '#ff0000';
var FONT = { family: "'Liberation Sans', Arial, sans-serif", size: 21 };

function toPoints(rows) {
  return rows.map(function(r) { return { x: r[0], y: r[1] }; });
}

function dayLabel(v) {
  var d = new Date(2014, 1, 1 + v);
  return d.getDate() + '.' + (d.getMonth() + 1) + '.' + d.getFullYear();
}

// axis lines and tick marks that cross the axis, drawn by hand
var axisMarks = {
  id: 'axisMarks',
  afterDraw: function(chart, args, opts) {
    var ctx = chart.ctx;
    var area = chart.chartArea;
    var ys = chart.scales.y;
    var xs = chart.scales.x;
    ctx.save();
    ctx.strokeStyle = '#000';
    ctx.lineWidth = 2;
    ctx.beginPath();
    ctx.moveTo(area.left, area.top);
    ctx.lineTo(area.left, area.bottom - (opts.gap || 0));
    ctx.stroke();

    ctx.lineWidth = 1.5;
    ctx.strokeStyle = '#111';
    ctx.beginPath();
    ys.ticks.forEach(function(t) {
      var py = Math.round(ys.getPixelForValue(t.value)) + 0.5;
      var half = t.label === '' ? 5 : 8;
      ctx.moveTo(area.left - half, py);
      ctx.lineTo(area.left + half, py);
    });
    if (xs.options.display) {
      xs.ticks.forEach(function(t) {
        var px = Math.round(xs.getPixelForValue(t.value)) + 0.5;
        ctx.moveTo(px, area.bottom - 8);
        ctx.lineTo(px, area.bottom + 8);
      });
    }
    ctx.stroke();
    ctx.restore();
  }
};

function makePanel(canvasId, cfg) {
  var ctx = document.getElementById(canvasId).getContext('2d');
  return new Chart(ctx, {
    type: 'scatter',
    data: {
      datasets: [
        { data: toPoints(cfg.blue), backgroundColor: BLUE },
        { data: toPoints(cfg.red), backgroundColor: RED }
      ]
    },
    options: {
      responsive: false,
      animation: false,
      events: [],
      layout: { padding: { top: cfg.top, bottom: cfg.bottom, left: 0, right: 17 } },
      elements: { point: { pointStyle: 'rect', radius: 3.5, borderWidth: 0, hoverRadius: 3.5 } },
      plugins: {
        legend: { display: false },
        tooltip: { enabled: false },
        axisMarks: { gap: cfg.gap }
      },
      scales: {
        x: {
          type: 'linear',
          min: dayMin,
          max: dayMax,
          display: cfg.showX,
          grid: { display: false },
          border: { display: cfg.showX, color: '#000', width: 2 },
          afterBuildTicks: function(s) {
            s.ticks = dateTicks.map(function(v) { return { value: v }; });
          },
          afterFit: function(s) {
            s.paddingLeft = 0;
            s.paddingRight = 0;
            if (cfg.showX) s.height = 57;
          },
          ticks: {
            color: '#000',
            font: FONT,
            padding: 8,
            maxRotation: 0,
            autoSkip: false,
            callback: function(v) { return dayLabel(v); }
          },
          title: {
            display: cfg.showX,
            text: 'Date and Time',
            color: '#000',
            font: { family: FONT.family, size: 21, lineHeight: 1 },
            padding: { top: 0, bottom: 0 }
          }
        },
        y: {
          type: 'linear',
          min: cfg.yMin,
          max: cfg.yMax,
          grid: { display: false },
          border: { display: false },
          afterBuildTicks: function(s) {
            s.ticks = cfg.ticks.map(function(v) { return { value: v }; });
          },
          afterFit: function(s) {
            s.width = 127;
            s.paddingTop = 0;
            s.paddingBottom = 0;
          },
          ticks: {
            color: '#000',
            font: FONT,
            padding: 9,
            autoSkip: false,
            callback: cfg.tickLabel
          },
          title: {
            display: true,
            text: cfg.title,
            color: '#000',
            font: { family: FONT.family, size: 21, lineHeight: 1.1 },
            padding: { top: 11, bottom: 0 }
          }
        }
      }
    },
    plugins: [axisMarks]
  });
}

makePanel('tempChart', {
  blue: tempBlue, red: tempRed,
  top: 15, bottom: 504, gap: 0, showX: false,
  yMin: 19.59, yMax: 42.49, ticks: tempTicks,
  tickLabel: function(v) { return String(v); },
  title: ['Chamber', 'temperature (\u00b0C)']
});

makePanel('normChart', {
  blue: normBlue, red: normRed,
  top: 236, bottom: 284, gap: 0, showX: false,
  yMin: 0.261, yMax: 1.438, ticks: normTicks,
  tickLabel: function(v) { return v.toFixed(1); },
  title: ['Normalized scattering', 'amplitude']
});

makePanel('lowChart', {
  blue: lowBlue, red: lowRed,
  top: 457, bottom: 0, gap: 6, showX: true,
  yMin: 1398, yMax: 8492, ticks: lowTicks,
  tickLabel: function(v) { return v % 2000 === 0 ? String(v) : ''; },
  title: ['Low gain scattering', 'amplitude (arb. units)']
});
</script>
</body>
</html>
